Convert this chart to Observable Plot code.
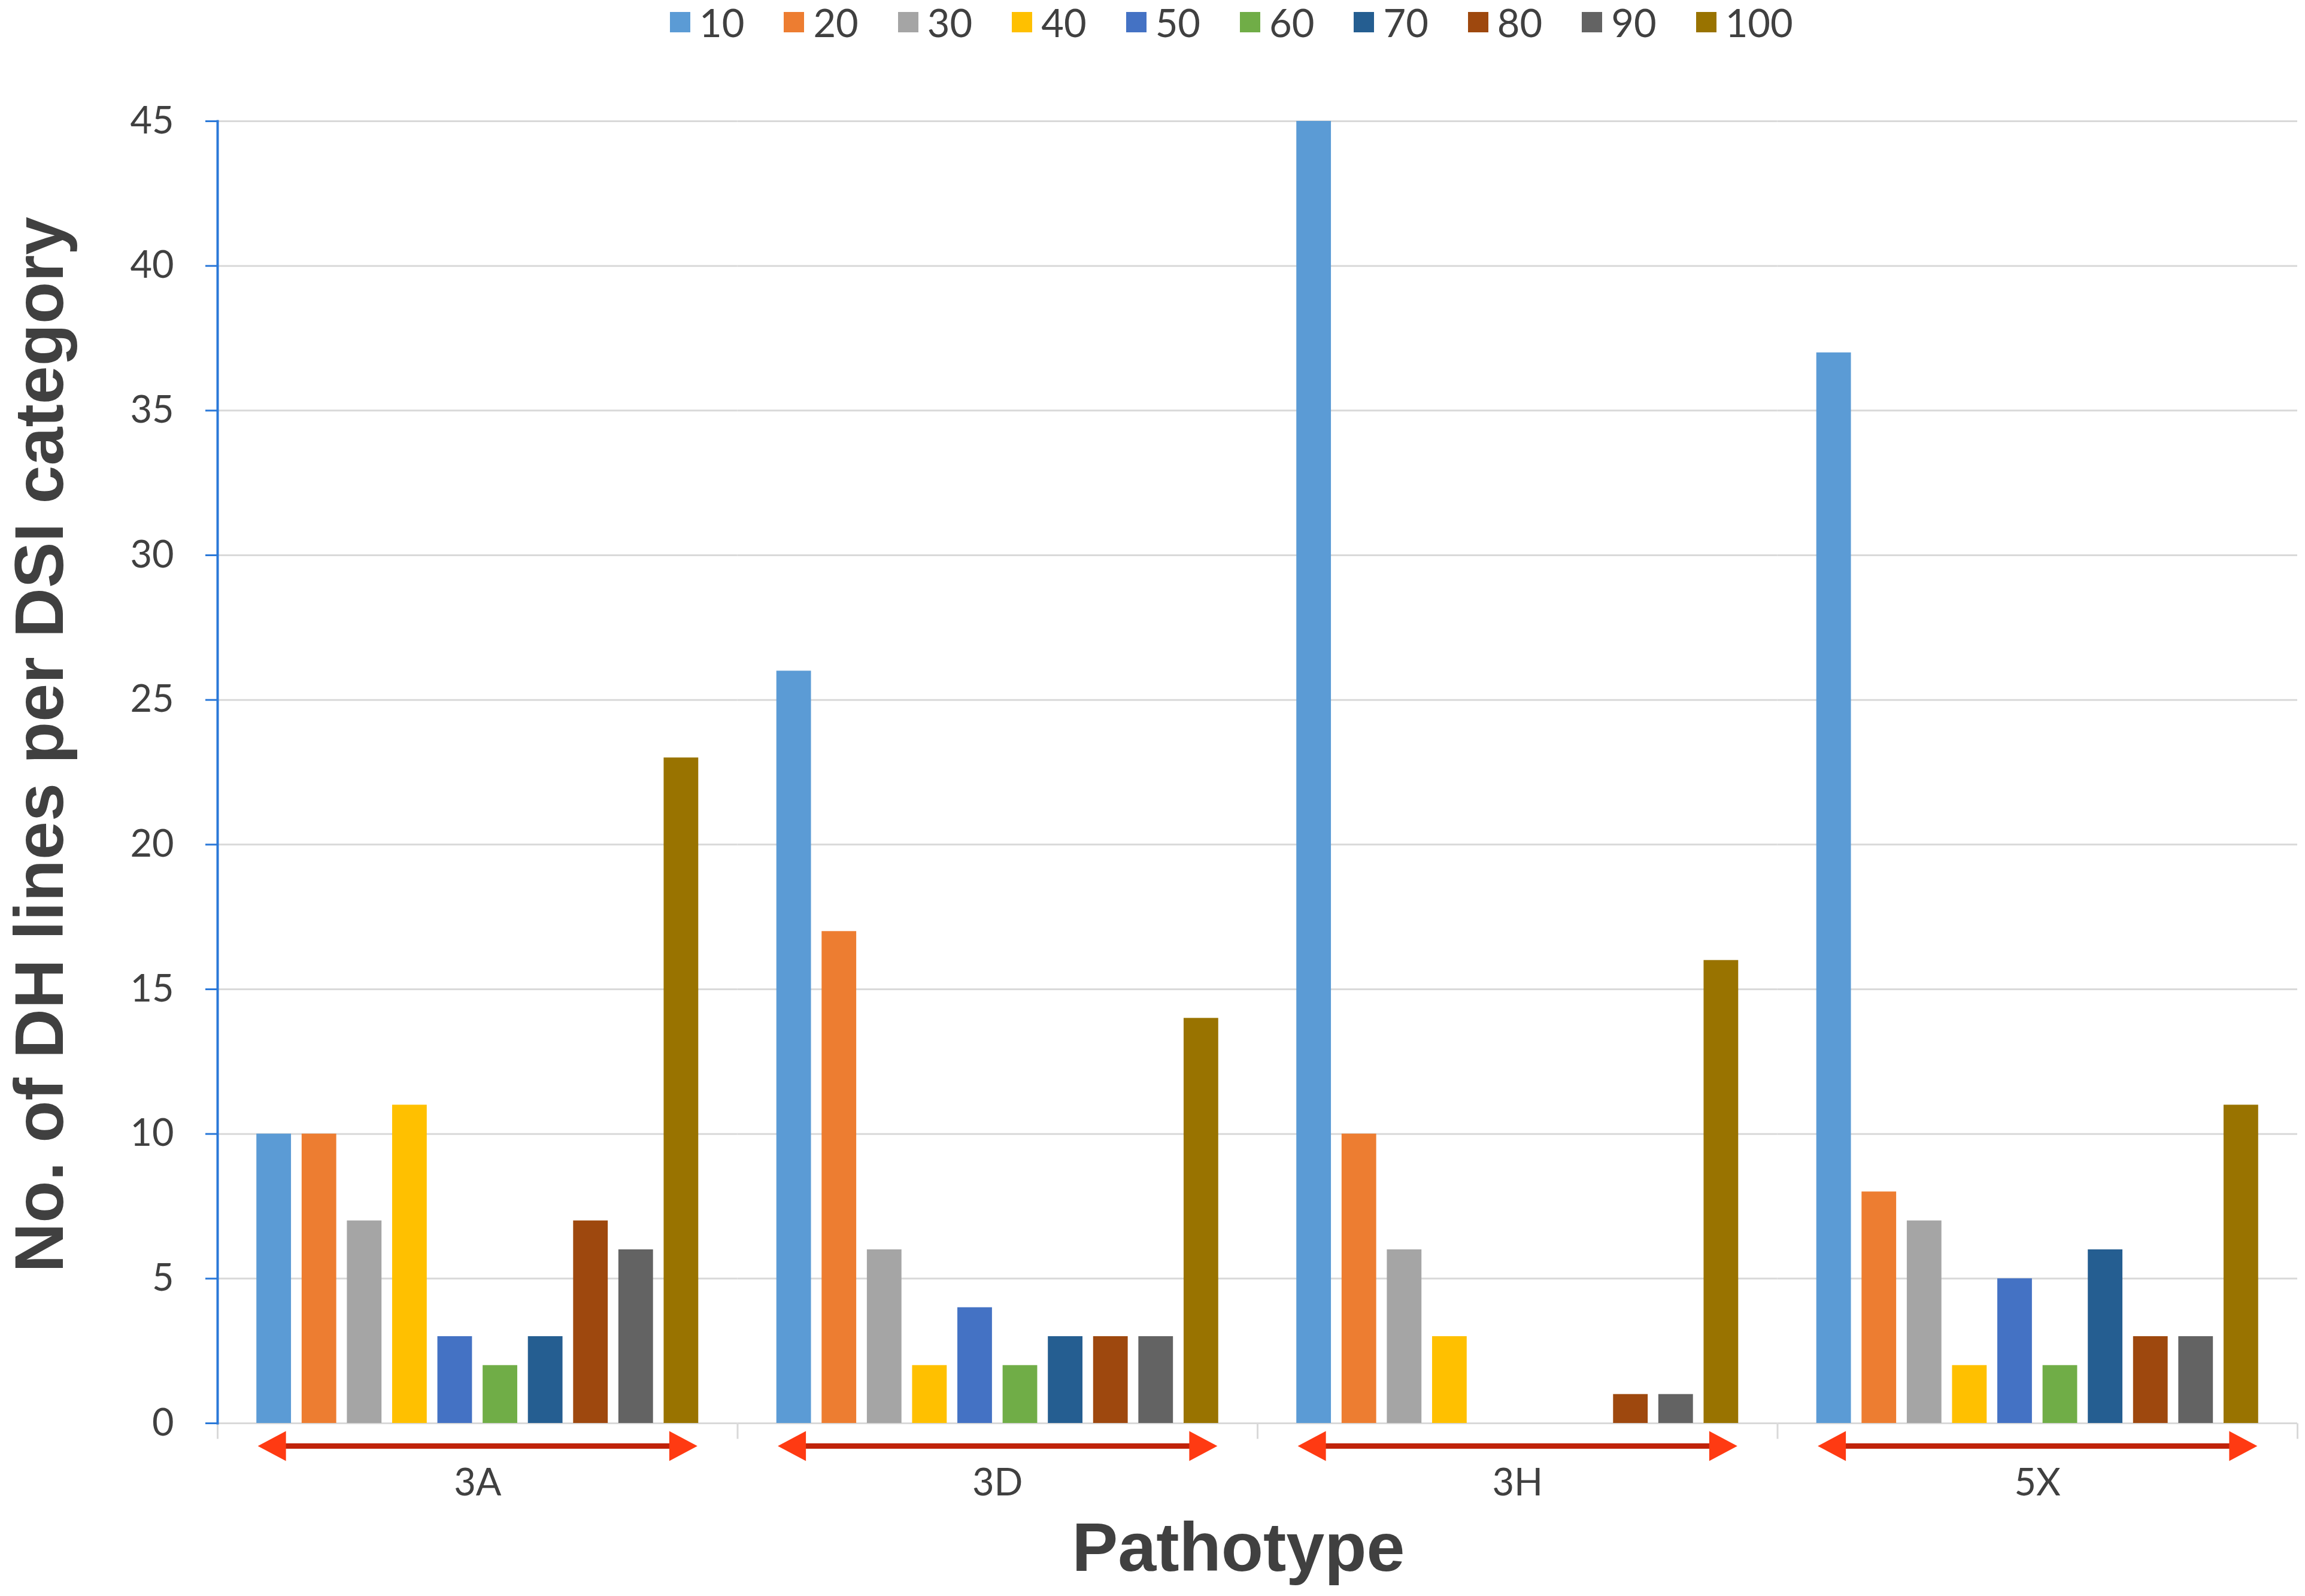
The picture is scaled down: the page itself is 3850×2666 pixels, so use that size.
<!DOCTYPE html>
<html><head><meta charset="utf-8">
<script src="https://cdn.jsdelivr.net/npm/d3@7"></script>
<script src="https://cdn.jsdelivr.net/npm/@observablehq/plot@0.6"></script>
<style>
html,body{margin:0;padding:0;background:#fff;}
#legend{position:relative;width:3850px;height:80px;}
#legend .items{position:absolute;left:1119px;top:0;height:74px;display:flex;align-items:center;font-family:Lato,sans-serif;font-size:65px;line-height:1;color:#404040;}
#legend .item{display:flex;align-items:center;margin-right:66px;}
#legend .sw{width:34px;height:34px;margin-right:15px;}
</style></head><body>
<div id="legend"><div class="items"></div></div>
<div id="chart"></div>
<script>
const categories = ["3A", "3D", "3H", "5X"];
const series = ["10", "20", "30", "40", "50", "60", "70", "80", "90", "100"];
const colors = ["#5B9BD5", "#ED7D31", "#A5A5A5", "#FFC000", "#4472C4", "#70AD47", "#255E91", "#9E480E", "#636363", "#997300"];
const values3A = [10, 10, 7, 11, 3, 2, 3, 7, 6, 23];
const values3D = [26, 17, 6, 2, 4, 2, 3, 3, 3, 14];
const values3H = [45, 10, 6, 3, 0, 0, 0, 1, 1, 16];
const values5X = [37, 8, 7, 2, 5, 2, 6, 3, 3, 11];
const yTicks = [0, 5, 10, 15, 20, 25, 30, 35, 40, 45];
const yTitle = "No. of DH lines per DSI category";
const xTitle = "Pathotype";

const valuesByCategory = [values3A, values3D, values3H, values5X];
const data = [];
categories.forEach((c, i) => series.forEach((s, j) => data.push({group: c, series: s, value: valuesByCategory[i][j]})));
const arrows = categories.map(c => ({group: c, from: series[0], to: series[series.length - 1]}));
const gridTicks = yTicks.filter(t => t > 0);

// legend
const items = document.querySelector("#legend .items");
series.forEach((s, i) => {
  const it = document.createElement("div");
  it.className = "item";
  const sw = document.createElement("div");
  sw.className = "sw";
  sw.style.background = colors[i];
  const tx = document.createElement("span");
  tx.textContent = s;
  it.appendChild(sw); it.appendChild(tx);
  items.appendChild(it);
});

const blue = "#2a78d8";
const gray = "#d9d9d9";
const vtick = {draw(ctx) { ctx.moveTo(0, 0); ctx.lineTo(0, 26); }};
const headLeft = {draw(ctx) { ctx.moveTo(0, 0); ctx.lineTo(47, -25); ctx.lineTo(47, 25); ctx.closePath(); }};
const headRight = {draw(ctx) { ctx.moveTo(0, 0); ctx.lineTo(-47, -25); ctx.lineTo(-47, 25); ctx.closePath(); }};

const chart = Plot.plot({
  width: 3850,
  height: 2586,
  marginTop: 122,
  marginBottom: 289,
  marginLeft: 363,
  marginRight: 13,
  style: {background: "white"},
  fx: {domain: categories, padding: 0, round: false},
  x: {domain: series, paddingInner: 0.235, paddingOuter: 0.863, round: false, axis: null},
  y: {domain: [0, 45]},
  color: {domain: series, range: colors},
  marks: [
    Plot.gridY(gridTicks, {stroke: gray, strokeOpacity: 1, strokeWidth: 3}),
    Plot.ruleY([0], {stroke: gray, strokeWidth: 3}),
    Plot.dot([0], {frameAnchor: "bottom-left", symbol: vtick, stroke: gray, strokeWidth: 3, fill: "none"}),
    Plot.dot([0], {frameAnchor: "bottom-right", facetAnchor: "right", symbol: vtick, stroke: gray, strokeWidth: 3, fill: "none"}),
    Plot.frame({anchor: "left", facetAnchor: "left", stroke: blue, strokeWidth: 4}),
    Plot.barY(data, {fx: "group", x: "series", y: "value", fill: "series"}),
    Plot.link(arrows, {fx: "group", x1: "from", x2: "to", y1: 0, y2: 0, dy: 38, stroke: "#c0230a", strokeWidth: 9}),
    Plot.dot(arrows, {fx: "group", x: "from", y: 0, dx: -27, dy: 38, symbol: headLeft, fill: "#ff3a12", stroke: "none"}),
    Plot.dot(arrows, {fx: "group", x: "to", y: 0, dx: 27, dy: 38, symbol: headRight, fill: "#ff3a12", stroke: "none"}),
    Plot.axisY(yTicks, {tickSize: 20, tickPadding: 53, stroke: blue, strokeWidth: 3, fill: "#404040", fontSize: 63, fontFamily: "Lato", label: null}),
    Plot.axisY([], {tickSize: 0, label: yTitle, labelArrow: "none", labelAnchor: "center", labelOffset: 340, fontSize: 115, fontWeight: "bold", fontFamily: "Liberation Sans", fill: "#404040"}),
    Plot.axisFx({anchor: "bottom", tickSize: 0, tickPadding: 76, fontSize: 63, fontFamily: "Lato", fill: "#404040", label: null}),
    Plot.axisFx([], {anchor: "bottom", tickSize: 0, label: xTitle, labelArrow: "none", labelAnchor: "center", labelOffset: 246, fontSize: 115, fontWeight: "bold", fontFamily: "Liberation Sans", fill: "#404040"})
  ]
});
document.getElementById("chart").appendChild(chart);

function nudge(svg, label, dx, dy) {
  const g = svg.querySelector(`g[aria-label="${label}"]`);
  if (!g) return;
  const w = document.createElementNS("http://www.w3.org/2000/svg", "g");
  w.setAttribute("transform", `translate(${dx},${dy})`);
  g.parentNode.insertBefore(w, g);
  w.appendChild(g);
}
nudge(chart, "y-axis label", 0, -46);
nudge(chart, "fx-axis label", -32, 0);
</script>
</body></html>
